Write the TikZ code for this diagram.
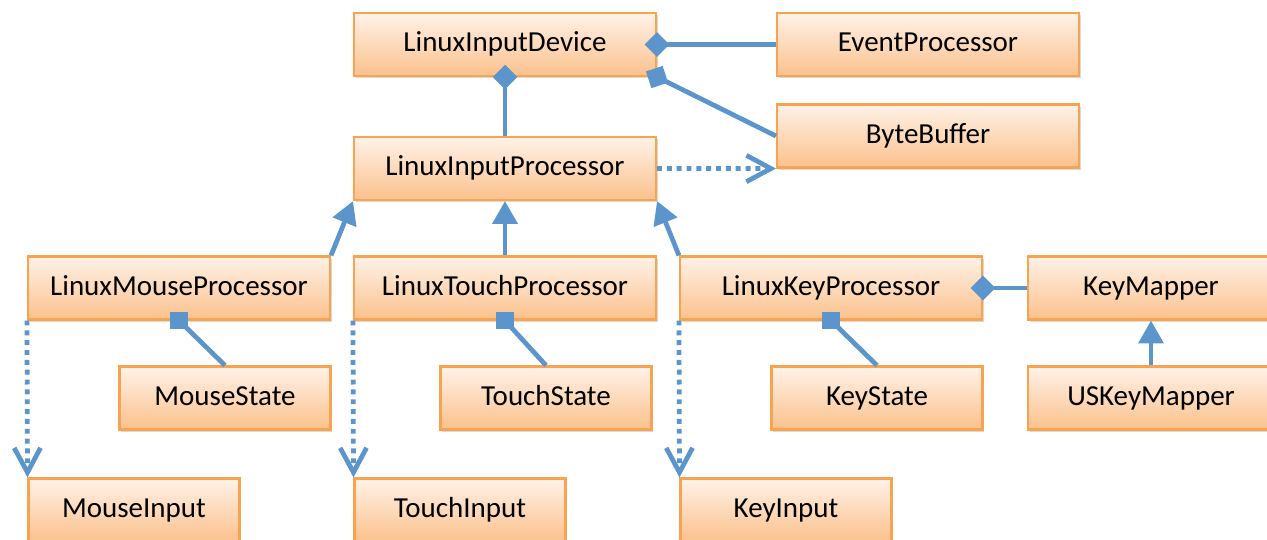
\documentclass[tikz,border=0pt]{standalone}
\usepackage{fontspec}
\setmainfont{Carlito}
\usetikzlibrary{arrows.meta}
\usetikzlibrary{shadows}

\definecolor{boxline}{HTML}{F9A24F}
\definecolor{boxtop}{HTML}{FFF2E8}
\definecolor{boxbot}{HTML}{FBC18C}
\definecolor{linkblue}{HTML}{5B95CB}

\tikzset{
  cls/.style={rectangle,draw=boxline,line width=1.2pt,top color=boxtop,bottom color=boxbot,
    minimum width=6.04cm,minimum height=1.26cm,font=\fontsize{16.5}{19}\selectfont,
    text height=11.5pt,text depth=3pt,
    drop shadow={shadow xshift=1pt,shadow yshift=-1.3pt,opacity=.3}},
  smallcls/.style={cls,minimum width=4.22cm},
  conn/.style={draw=linkblue,line width=2.7pt},
  composed/.style={conn,-{Diamond[length=14pt,width=14pt]},shorten >=-7pt},
  inherits/.style={conn,-{Triangle[length=13pt,width=14pt]}},
  depends/.style={conn,dash pattern=on 2.8pt off 2.8pt,-{Straight Barb[length=14pt,width=15pt]}},
  sqmark/.style={rectangle,fill=linkblue,minimum size=10pt,inner sep=0pt},
}

\begin{document}
\begin{tikzpicture}[x=0.02cm,y=-0.02cm]
        \useasboundingbox (0,0) rectangle (1267,540);

        % top row
        \node[cls] (lid) at (505,44.5) {LinuxInputDevice};
        \node[cls] (evp) at (928,44.5) {EventProcessor};
        \node[cls] (bbuf) at (928,136) {ByteBuffer};
        \node[cls] (lip) at (505,168.5) {LinuxInputProcessor};

        % processors
        \node[cls] (lmp) at (179,288) {LinuxMouseProcessor};
        \node[cls] (ltp) at (505,288) {LinuxTouchProcessor};
        \node[cls] (lkp) at (831,288) {LinuxKeyProcessor};
        \node[cls,minimum width=4.92cm] (kmap) at (1151,288) {KeyMapper};

        % states
        \node[smallcls] (mstate) at (225,398) {MouseState};
        \node[smallcls] (tstate) at (546,398) {TouchState};
        \node[smallcls] (kstate) at (877,398) {KeyState};
        \node[cls,minimum width=4.92cm] (uskm) at (1151,398) {USKeyMapper};

        % inputs
        \node[smallcls] (minput) at (134,510) {MouseInput};
        \node[smallcls] (tinput) at (460,510) {TouchInput};
        \node[smallcls] (kinput) at (786,510) {KeyInput};

        \draw[composed] (evp) -- (lid);
        \draw[composed] (lip) -- (lid);
        \draw[conn] (bbuf.west) -- (lid.south east);
        \node[sqmark,rotate=18] (bbufsq) at (lid.south east) {};
        \draw[depends] (lip.east) -- (bbuf.south west);

        \draw[inherits] (lmp.north east) -- (lip.south west);
        \draw[inherits] (ltp) -- (lip);
        \draw[inherits] (lkp.north west) -- (lip.south east);

        \draw[composed] (kmap) -- (lkp);
        \draw[inherits] (uskm) -- (kmap);

        \draw[conn] (mstate.north) -- (lmp.south);
        \node[sqmark] (msq) at (lmp.south) {};
        \draw[conn] (tstate.north) -- (ltp.south);
        \node[sqmark] (tsq) at (ltp.south) {};
        \draw[conn] (kstate.north) -- (lkp.south);
        \node[sqmark] (ksq) at (lkp.south) {};

        \draw[depends] (lmp.south west) -- (minput.north west);
        \draw[depends] (ltp.south west) -- (tinput.north west);
        \draw[depends] (lkp.south west) -- (kinput.north west);

    \end{tikzpicture}
\end{document}
